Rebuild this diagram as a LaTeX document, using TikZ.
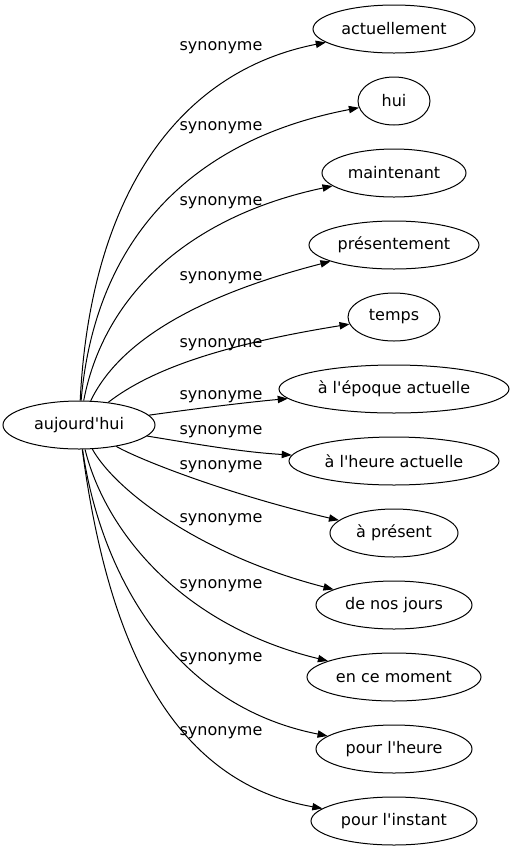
\documentclass[tikz,border=0pt]{standalone}
\usepackage{fontspec}
\setmainfont{DejaVu Sans}[Ligatures=ResetAll]
\usetikzlibrary{arrows.meta,shapes.geometric}

\begin{document}
\begin{tikzpicture}[x=0.75pt,y=-0.75pt,line width=0.75pt,font=\fontsize{12}{14}\selectfont]
    \tikzstyle{word}=[ellipse,draw,minimum height=36pt,inner sep=0pt];
    \tikzstyle{syn}=[-{Triangle[length=7.5pt,width=5.5pt]}];
    \tikzstyle{annot}=[inner sep=0pt];

    \useasboundingbox (0,0) rectangle (514,851);

    % Draw the source node
    \node[word,minimum width=114pt] (S) at (79,425) {aujourd\textquotesingle hui};

    % Draw the synonym nodes, one per row
    \foreach \name/\w/\txt in {1/162/actuellement,2/72/hui,3/144/maintenant,
      4/170/présentement,5/92/temps,6/230/à l\textquotesingle époque actuelle,
      7/210/à l\textquotesingle heure actuelle,8/128/à présent,9/156/de nos jours,
      10/174/en ce moment,11/156/pour l\textquotesingle heure,12/166/pour l\textquotesingle instant}
    \node[word,minimum width=\w*0.75pt] (T-\name) at (394,{29+72*(\name-1)}) {\txt};

    % Connect the source node with every synonym node
    \foreach \dest/\ax/\ay/\bx/\by in {1/90/200/175/72,2/95/240/190/140,
      3/105/290/195/215,4/120/340/200/295,5/150/370/220/345,
      6/200/408/250/402,7/190/443/240/452,8/140/460/230/495,
      9/115/490/200/555,10/105/530/180/625,11/100/570/170/705,
      12/105/620/160/780}
    \draw[syn] (S) .. controls (\ax,\ay) and (\bx,\by) .. (T-\dest);

    % Annotate the edges
    \foreach \name/\y in {1/48,2/128,3/203,4/278,5/345,6/397,
      7/432,8/467,9/520,10/586,11/659,12/733}
    \node[annot] (L-\name) at (221,\y) {synonyme};
\end{tikzpicture}
\end{document}
